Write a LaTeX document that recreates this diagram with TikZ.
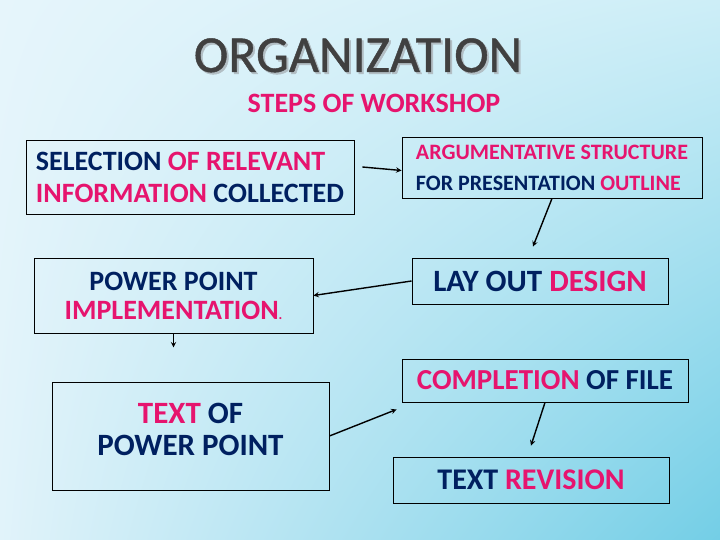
\documentclass[tikz,border=0pt]{standalone}
\usepackage{fontspec}
\setmainfont{Carlito}
\newfontfamily\titlefont[FakeBold=0.8]{Carlito}
\usepackage{xcolor}
\usetikzlibrary{arrows, positioning, shadings}
\definecolor{navyblue}{RGB}{0, 32, 96}
\definecolor{hotpink}{RGB}{230, 20, 110}
\definecolor{titlegray}{RGB}{64, 64, 64}
\definecolor{shadowgray}{RGB}{178, 190, 196}
\definecolor{bgtopleft}{RGB}{230, 245, 251}
\definecolor{bgtopright}{RGB}{205, 238, 247}
\definecolor{bgbottomleft}{RGB}{225, 243, 250}
\definecolor{bgbottomright}{RGB}{115, 206, 230}
\newcommand{\hl}[1]{\textcolor{hotpink}{#1}}

\begin{document}
\begin{tikzpicture}[
    x=1pt, y=-1pt,
    stepbox/.style={rectangle, draw=black, line width=0.9pt, text centered, text=navyblue, inner sep=0pt},
    arrow/.style={line width=1.4pt,->,>=stealth, draw=black}
]

% Background
\useasboundingbox (0,0) rectangle (720,540);
\shade[upper left=bgtopleft, upper right=bgtopright, lower left=bgbottomleft, lower right=bgbottomright] (0,0) rectangle (720,540);

% Title
\node (titleshadow) [anchor=base, text=shadowgray, font=\titlefont\fontsize{52}{52}\selectfont] at (360,74) {ORGANIZATION};
\node (title) [anchor=base, text=titlegray, font=\titlefont\fontsize{52}{52}\selectfont] at (358,72) {ORGANIZATION};
\node (subtitle) [anchor=base, text=hotpink, font=\bfseries\fontsize{28}{28}\selectfont] at (374,113) {STEPS OF WORKSHOP};

% Steps
\node (selection) [stepbox, align=left, minimum width=328pt, minimum height=74pt, font=\bfseries\fontsize{28}{32}\selectfont] at (190,177) {SELECTION \hl{OF RELEVANT}\\\hl{INFORMATION} COLLECTED};
\node (argument) [stepbox, align=left, minimum width=300pt, minimum height=61pt, text depth=-6pt, font=\bfseries\fontsize{22}{31}\selectfont] at (552,167.5) {\hl{ARGUMENTATIVE STRUCTURE}\\FOR PRESENTATION \hl{OUTLINE}};
\node (layout) [stepbox, minimum width=256pt, minimum height=46pt, font=\bfseries\fontsize{31}{31}\selectfont] at (540,281) {LAY OUT \hl{DESIGN}};
\node (implement) [stepbox, align=center, minimum width=279pt, minimum height=75pt, font=\bfseries\fontsize{28}{29}\selectfont] at (173.5,295.5) {POWER POINT\\\hl{IMPLEMENTATION}{\fontsize{14}{14}\selectfont\hl{.}}};
\node (textpp) [stepbox, align=center, minimum width=277pt, minimum height=108pt, text depth=14pt, font=\bfseries\fontsize{31}{32}\selectfont] at (190.5,436) {\hl{TEXT} OF\\POWER POINT};
\node (completion) [stepbox, minimum width=286pt, minimum height=43pt, font=\bfseries\fontsize{29}{29}\selectfont] at (545,380.5) {\hl{COMPLETION} OF FILE};
\node (revision) [stepbox, minimum width=276pt, minimum height=46pt, font=\bfseries\fontsize{30}{30}\selectfont] at (531,480) {TEXT \hl{REVISION}};

% Arrows
\draw [arrow] ([xshift=8pt,yshift=10pt]selection.east) -- ([yshift=-3pt]argument.west);
\draw [arrow] (argument.south) -- ([xshift=-7pt,yshift=11pt]layout.north);
\draw [arrow] (layout.west) -- (implement.east);
\draw [arrow] (implement.south) -- ([yshift=-14pt]implement.south);
\draw [arrow] (textpp.east) -- ([xshift=-5pt,yshift=-7pt]completion.south west);
\draw [arrow] (completion.south) -- ([yshift=11pt]revision.north);

\end{tikzpicture}
\end{document}
